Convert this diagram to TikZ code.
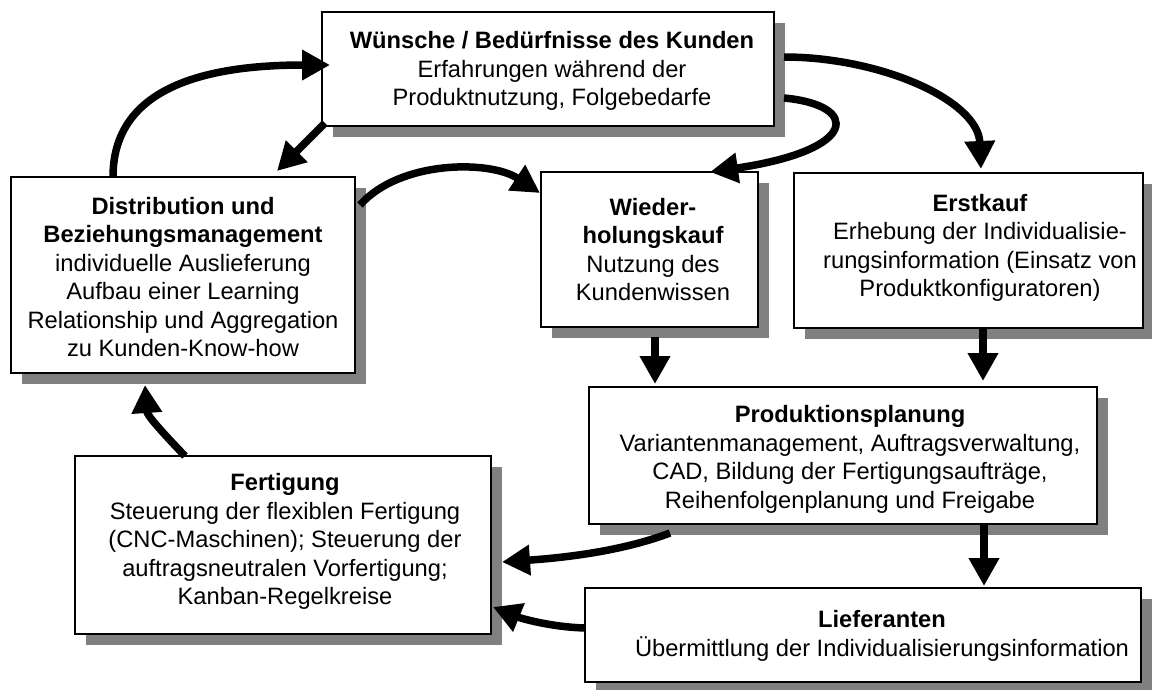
\documentclass[tikz,border=0pt]{standalone}
\usepackage{fontspec}
\setmainfont{Liberation Sans}
\usetikzlibrary{arrows.meta,shadows,calc}
\definecolor{shadowgray}{RGB}{128,128,128}
\begin{document}
\begin{tikzpicture}[x=1pt,y=-1pt,
  box/.style={draw=black, line width=2.2pt, fill=white, inner sep=0pt,
    drop shadow={shadow xshift=10.5pt, shadow yshift=-10.5pt, fill=shadowgray, opacity=1}},
  txt/.style={align=center, inner sep=0pt, font=\fontsize{23.7}{28.5}\selectfont},
  arr/.style={line width=7.5pt, draw=black, -{Triangle[length=28pt,width=29pt]}}]
\fill[white] (0,0) rectangle (1152,689);
\useasboundingbox (0,0) rectangle (1152,689);
% boxes
\node[box, minimum width=452pt, minimum height=114pt] (wue) at (548,69) {};
\node[box, minimum width=344pt, minimum height=196pt] (dist) at (183,275) {};
\node[box, minimum width=217pt, minimum height=155pt] (wied) at (649.5,249.5) {};
\node[box, minimum width=349pt, minimum height=155pt] (erst) at (968.5,250.5) {};
\node[box, minimum width=508pt, minimum height=137pt] (prod) at (843,455.5) {};
\node[box, minimum width=416pt, minimum height=178pt] (fert) at (283,545) {};
\node[box, minimum width=556pt, minimum height=94pt] (lief) at (863,635) {};
% texts
\node[txt] (wuet) at (552,71) {\textbf{Wünsche / Bedürfnisse des Kunden}\\Erfahrungen während der\\Produktnutzung, Folgebedarfe};
\node[txt] (distt) at (183,277) {\textbf{Distribution und}\\\textbf{Beziehungsmanagement}\\individuelle Auslieferung\\Aufbau einer Learning\\Relationship und Aggregation\\zu Kunden-Know-how};
\node[txt] (wiedt) at (653,249.5) {\textbf{Wieder-}\\\textbf{holungskauf}\\Nutzung des\\Kundenwissen};
\node[txt] (erstt) at (980,248) {\textbf{Erstkauf}\\Erhebung der Individualisie-\\rungsinformation (Einsatz von\\Produktkonfiguratoren)};
\node[txt] (prodt) at (850,459.5) {\textbf{Produktionsplanung}\\Variantenmanagement, Auftragsverwaltung,\\CAD, Bildung der Fertigungsaufträge,\\Reihenfolgenplanung und Freigabe};
\node[txt] (fertt) at (285,541.5) {\textbf{Fertigung}\\Steuerung der flexiblen Fertigung\\(CNC-Maschinen); Steuerung der\\auftragsneutralen Vorfertigung;\\Kanban-Regelkreise};
\node[txt] (lieft) at (882,636) {\textbf{Lieferanten}\\Übermittlung der Individualisierungsinformation};
% connectors
\draw[arr] ($(dist.center)+(-70,-98)$) .. controls +(0,-82) and +(-140,0) .. ($(wue.center)+(-218,-4)$);
\draw[arr] ($(wue.center)+(-223,54)$) -- ($(dist.center)+(94,-104)$);
\draw[arr] ($(dist.center)+(177,-70)$) .. controls +(40,-45) and +(-50,-33) .. ($(wied.center)+(-109.5,-56.5)$);
\draw[arr] ($(wue.center)+(236,29)$) .. controls +(76,7) and +(150,-22) .. ($(wied.center)+(60.5,-77.5)$);
\draw[arr] ($(wue.center)+(236,-12)$) .. controls +(96,0) and +(-3,-69) .. ($(erst.center)+(12.5,-81.5)$);
\draw[arr] ($(wied.center)+(5.5,87.5)$) -- ($(prod.center)+(-188,-71.5)$);
\draw[arr] ($(erst.center)+(14.5,77.5)$) -- ($(prod.center)+(140,-74.5)$);
\draw[arr] ($(prod.center)+(141,68.5)$) -- ($(lief.center)+(121,-49)$);
\draw[arr] ($(prod.center)+(-173,77.5)$) .. controls +(-50,19) and +(58,-4) .. ($(fert.center)+(219,17)$);
\draw[arr] ($(lief.center)+(-278,-7)$) .. controls +(-35,-1) and +(27,11) .. ($(fert.center)+(210,62)$);
\draw[arr] ($(fert.center)+(-98,-89)$) .. controls +(-25,-26) and +(2,30) .. ($(dist.center)+(-38,110)$);
\end{tikzpicture}
\end{document}
